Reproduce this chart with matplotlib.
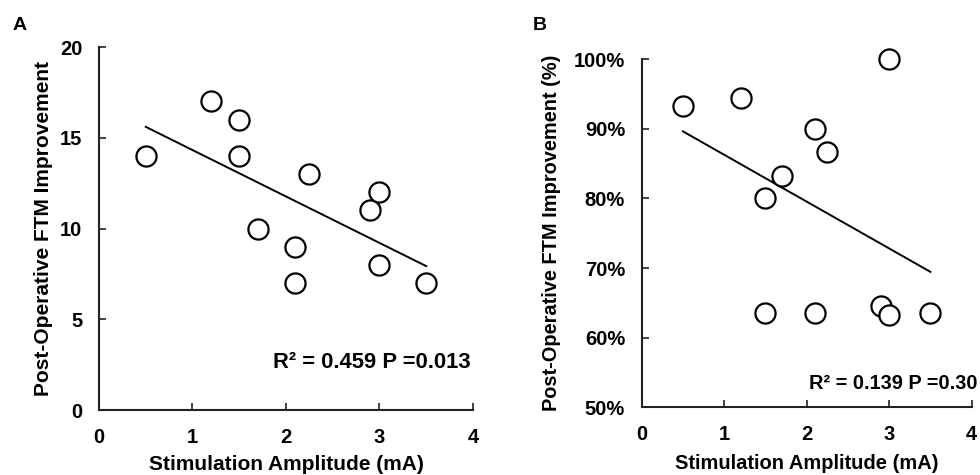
import numpy as np
import matplotlib
matplotlib.use("Agg")
import matplotlib.pyplot as plt
from matplotlib.ticker import PercentFormatter

plt.rcParams['font.family'] = ['Liberation Sans', 'DejaVu Sans']
plt.rcParams['font.weight'] = 'bold'

# Panel A data
amp_a = [0.5, 1.2, 1.5, 1.5, 1.7, 2.1, 2.1, 2.25, 2.9, 3.0, 3.0, 3.5]
ftm_a = [14, 17, 16, 14, 10, 9, 7, 13, 11, 12, 8, 7]
# Panel B data (percent)
amp_b = [0.5, 1.2, 1.5, 1.5, 1.7, 2.1, 2.1, 2.25, 2.9, 3.0, 3.0, 3.5]
ftm_b = [93.3, 94.4, 80.0, 63.6, 83.3, 90.0, 63.6, 86.7, 64.5, 63.2, 100.0, 63.6]

stats_a = "R² = 0.459 P =0.013"
stats_b = "R² = 0.139 P =0.30"
xlabel = "Stimulation Amplitude (mA)"
ylabel_a = "Post-Operative FTM Improvement"
ylabel_b = "Post-Operative FTM Improvement (%)"

fig = plt.figure(figsize=(9.8, 4.75), dpi=100)
axA = fig.add_axes([0.101, 0.1368, 0.3816, 0.7642])
axB = fig.add_axes([0.6548, 0.1425, 0.3367, 0.7327])

def style(ax):
    for s in ['top', 'right']:
        ax.spines[s].set_visible(False)
    for s in ['left', 'bottom']:
        ax.spines[s].set_linewidth(1.5)
        ax.spines[s].set_color('#222222')
    ax.tick_params(direction='in', length=5, width=1.2, labelsize=14.5, color='#222222')
    ax.tick_params(axis='y', pad=12)
    ax.tick_params(axis='x', pad=13)
    for lab in ax.get_xticklabels() + ax.get_yticklabels():
        lab.set_fontweight('bold')

def draw(ax, x, y):
    x = np.array(x); y = np.array(y)
    m, b = np.polyfit(x, y, 1)
    xs = np.array([x.min(), x.max()])
    ax.plot(xs, m * xs + b, color='black', lw=1.4, zorder=2)
    ax.plot(x, y, 'o', ms=14.5, mfc='white', mec='black', mew=1.6, zorder=3, clip_on=False)

draw(axA, amp_a, ftm_a)
axA.set_xlim(0, 4)
axA.set_ylim(0, 20)
axA.set_xticks([0, 1, 2, 3, 4])
axA.set_yticks([0, 5, 10, 15, 20])
style(axA)
axA.set_xlabel(xlabel, fontsize=15, fontweight='bold', labelpad=6)
axA.set_ylabel(ylabel_a, fontsize=15, fontweight='bold', labelpad=5)
axA.text(0.995, 0.13, stats_a, transform=axA.transAxes, ha='right', va='center',
         fontsize=15.8, fontweight='bold')

draw(axB, amp_b, ftm_b)
axB.set_xlim(0, 4)
axB.set_ylim(50, 100)
axB.set_xticks([0, 1, 2, 3, 4])
axB.set_yticks([50, 60, 70, 80, 90, 100])
axB.yaxis.set_major_formatter(PercentFormatter(xmax=100, decimals=0))
style(axB)
axB.set_xlabel(xlabel, fontsize=14.5, fontweight='bold', labelpad=7)
axB.set_ylabel(ylabel_b, fontsize=14.4, fontweight='bold', labelpad=9)
axB.text((809 - 641.7) / 330.0, (407.3 - 383) / 348.0, stats_b, transform=axB.transAxes,
         ha='left', va='center', fontsize=14.4, fontweight='bold')

fig.text(13 / 980, 1 - 25 / 475, "A", fontsize=14, fontweight='bold', va='center', ha='left')
fig.text(533 / 980, 1 - 25 / 475, "B", fontsize=14, fontweight='bold', va='center', ha='left')

fig.savefig("out.png", dpi=100, facecolor='white')
